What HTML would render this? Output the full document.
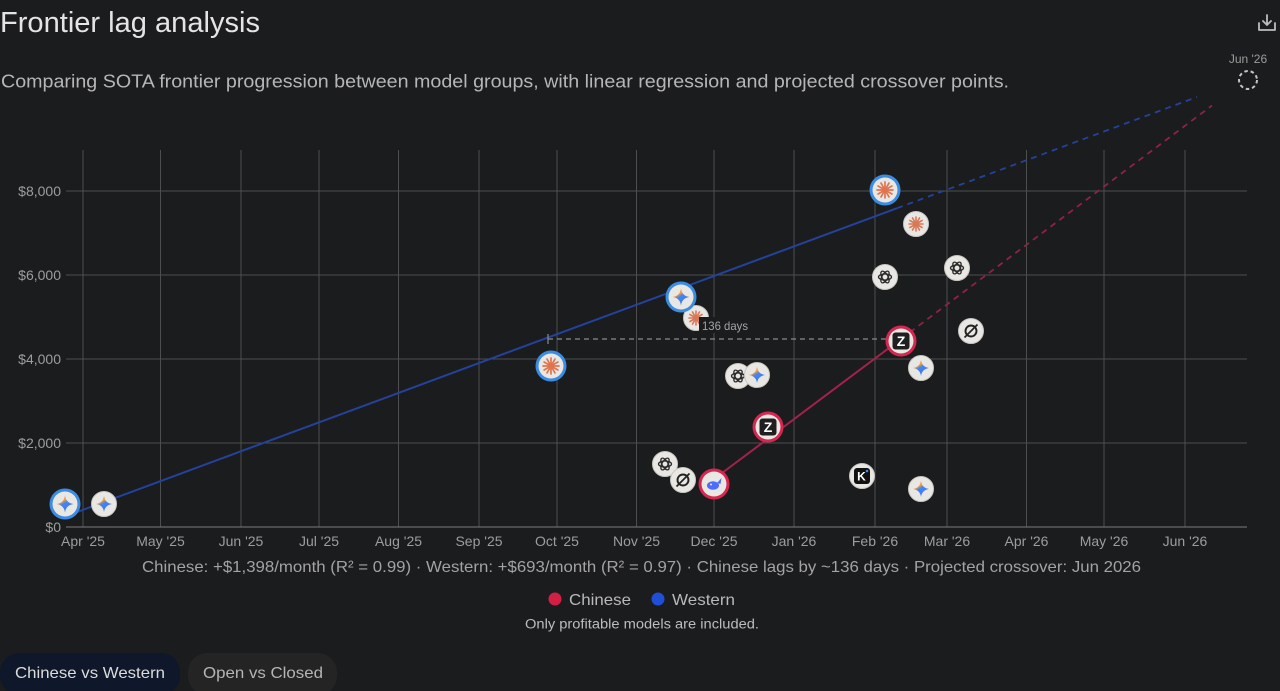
<!DOCTYPE html>
<html>
<head>
<meta charset="utf-8">
<style>
  html,body{margin:0;padding:0;background:#1b1c1e;}
  svg{display:block;}
  text{font-family:"Liberation Sans", Arial, sans-serif;}
</style>
</head>
<body>
<svg width="1280" height="691" viewBox="0 0 1280 691" xmlns="http://www.w3.org/2000/svg">
  <defs>
    <linearGradient id="gem" x1="0.2" y1="0" x2="0.8" y2="1">
      <stop offset="0" stop-color="#ee4a4f"/>
      <stop offset="0.3" stop-color="#f6a623"/>
      <stop offset="0.45" stop-color="#4a82f2"/>
      <stop offset="0.7" stop-color="#3f7ff0"/>
      <stop offset="1" stop-color="#2fae5a"/>
    </linearGradient>
  </defs>
  <rect x="0" y="0" width="1280" height="691" fill="#1b1c1e"/>

  <!-- Title & subtitle -->
  <text x="0" y="32" font-size="29" fill="#e4e4e4" textLength="260" lengthAdjust="spacingAndGlyphs">Frontier lag analysis</text>
  <text x="1" y="87.5" font-size="18.5" fill="#b6b6b6" textLength="1008" lengthAdjust="spacingAndGlyphs">Comparing SOTA frontier progression between model groups, with linear regression and projected crossover points.</text>

  <!-- download icon -->
  <g stroke="#bdbdbd" stroke-width="1.8" fill="none" stroke-linecap="round" stroke-linejoin="round">
    <path d="M1259,23 V30 H1275 V23"/>
    <path d="M1267,15 V25 M1263,21 L1267,25 L1271,21"/>
  </g>

  <!-- Jun '26 crossover marker -->
  <text x="1248" y="63" font-size="12" fill="#9c9c9c" text-anchor="middle">Jun '26</text>
  <circle cx="1248" cy="80" r="9" fill="none" stroke="#c4c4c4" stroke-width="2" stroke-dasharray="3.5 2.9"/>

  <!-- Grid -->
  <g stroke="#4e4e4e" stroke-width="1">
    <line x1="66" y1="191" x2="1247" y2="191"/>
    <line x1="66" y1="275" x2="1247" y2="275"/>
    <line x1="66" y1="359" x2="1247" y2="359"/>
    <line x1="66" y1="443" x2="1247" y2="443"/>
    <line x1="83" y1="150" x2="83" y2="527"/>
    <line x1="160.5" y1="150" x2="160.5" y2="527"/>
    <line x1="241" y1="150" x2="241" y2="527"/>
    <line x1="319" y1="150" x2="319" y2="527"/>
    <line x1="398.5" y1="150" x2="398.5" y2="527"/>
    <line x1="479" y1="150" x2="479" y2="527"/>
    <line x1="557" y1="150" x2="557" y2="527"/>
    <line x1="636.5" y1="150" x2="636.5" y2="527"/>
    <line x1="714" y1="150" x2="714" y2="527"/>
    <line x1="794" y1="150" x2="794" y2="527"/>
    <line x1="875" y1="150" x2="875" y2="527"/>
    <line x1="947" y1="150" x2="947" y2="527"/>
    <line x1="1026.5" y1="150" x2="1026.5" y2="527"/>
    <line x1="1104" y1="150" x2="1104" y2="527"/>
    <line x1="1185" y1="150" x2="1185" y2="527"/>
  </g>
  <line x1="66" y1="527" x2="1247" y2="527" stroke="#6a6a6a" stroke-width="1.2"/>

  <!-- Y labels -->
  <g font-size="14" fill="#9d9d9d" text-anchor="end">
    <text x="61" y="196">$8,000</text>
    <text x="61" y="280">$6,000</text>
    <text x="61" y="364">$4,000</text>
    <text x="61" y="448">$2,000</text>
    <text x="61" y="532">$0</text>
  </g>

  <!-- X labels -->
  <g font-size="14" fill="#9d9d9d" text-anchor="middle">
    <text x="83" y="546">Apr '25</text>
    <text x="160.5" y="546">May '25</text>
    <text x="241" y="546">Jun '25</text>
    <text x="319" y="546">Jul '25</text>
    <text x="398.5" y="546">Aug '25</text>
    <text x="479" y="546">Sep '25</text>
    <text x="557" y="546">Oct '25</text>
    <text x="636.5" y="546">Nov '25</text>
    <text x="714" y="546">Dec '25</text>
    <text x="794" y="546">Jan '26</text>
    <text x="875" y="546">Feb '26</text>
    <text x="947" y="546">Mar '26</text>
    <text x="1026.5" y="546">Apr '26</text>
    <text x="1104" y="546">May '26</text>
    <text x="1185" y="546">Jun '26</text>
  </g>

  <!-- Regression lines -->
  <line x1="65" y1="516.5" x2="897" y2="208.2" stroke="#24429a" stroke-width="2"/>
  <line x1="897" y1="208.2" x2="1197" y2="97" stroke="#24429a" stroke-width="1.8" stroke-dasharray="6 5"/>
  <line x1="714" y1="479" x2="901" y2="339" stroke="#a3224a" stroke-width="2"/>
  <line x1="901" y1="339" x2="1212" y2="105.5" stroke="#8e2342" stroke-width="1.8" stroke-dasharray="6 5"/>

  <!-- lag line -->
  <line x1="548" y1="339" x2="890" y2="339" stroke="#8a8a8a" stroke-width="1.2" stroke-dasharray="5 4"/>
  <line x1="548" y1="334" x2="548" y2="344" stroke="#8a8a8a" stroke-width="1.2"/>

  <!-- ===== Regular markers ===== -->
  <!-- Gemini 104,504 -->
  <g transform="translate(104,504)">
    <circle r="12.5" fill="#e9e7e3" stroke="#c9c7c3" stroke-width="1"/>
    <path d="M0,-8 Q1,-1 8,0 Q1,1 0,8 Q-1,1 -8,0 Q-1,-1 0,-8Z" fill="url(#gem)"/>
  </g>
  <!-- Claude 696,318 -->
  <g transform="translate(696,318)">
    <circle r="12.5" fill="#e9e7e3" stroke="#c9c7c3" stroke-width="1"/>
    <path d="M0,0 L7,0 M0,0 L6.06,3.5 M0,0 L3.5,6.06 M0,0 L0,7 M0,0 L-3.5,6.06 M0,0 L-6.06,3.5 M0,0 L-7,0 M0,0 L-6.06,-3.5 M0,0 L-3.5,-6.06 M0,0 L0,-7 M0,0 L3.5,-6.06 M0,0 L6.06,-3.5" stroke="#d97757" stroke-width="1.6" stroke-linecap="round"/>
  </g>
  <!-- OpenAI 738,376 -->
  <g transform="translate(738,376)">
    <circle r="12.5" fill="#e9e7e3" stroke="#c9c7c3" stroke-width="1"/>
    <g stroke="#2b2b2b" fill="none" stroke-width="1.3"><ellipse rx="6.5" ry="3"/><ellipse rx="6.5" ry="3" transform="rotate(60)"/><ellipse rx="6.5" ry="3" transform="rotate(120)"/></g>
  </g>
  <!-- Gemini 757,375 -->
  <g transform="translate(757,375)">
    <circle r="12.5" fill="#e9e7e3" stroke="#c9c7c3" stroke-width="1"/>
    <path d="M0,-8 Q1,-1 8,0 Q1,1 0,8 Q-1,1 -8,0 Q-1,-1 0,-8Z" fill="url(#gem)"/>
  </g>
  <!-- OpenAI 665,464 -->
  <g transform="translate(665,464)">
    <circle r="12.5" fill="#e9e7e3" stroke="#c9c7c3" stroke-width="1"/>
    <g stroke="#2b2b2b" fill="none" stroke-width="1.3"><ellipse rx="6.5" ry="3"/><ellipse rx="6.5" ry="3" transform="rotate(60)"/><ellipse rx="6.5" ry="3" transform="rotate(120)"/></g>
  </g>
  <!-- Ø 683,480 -->
  <g transform="translate(683,480)">
    <circle r="12.5" fill="#e9e7e3" stroke="#c9c7c3" stroke-width="1"/>
    <circle r="5.5" fill="none" stroke="#222" stroke-width="1.9"/>
    <line x1="-6.5" y1="6.5" x2="6.5" y2="-6.5" stroke="#222" stroke-width="1.7"/>
  </g>
  <!-- K 862,476 -->
  <g transform="translate(862,476)">
    <circle r="12.5" fill="#e9e7e3" stroke="#c9c7c3" stroke-width="1"/>
    <rect x="-8" y="-8" width="16" height="16" rx="3" fill="#111"/>
    <text x="-0.5" y="4.5" font-size="12" font-weight="bold" fill="#fff" text-anchor="middle">K</text>
    <circle cx="5" cy="-5" r="1.3" fill="#3b8de3"/>
  </g>
  <!-- Gemini 921,489 -->
  <g transform="translate(921,489)">
    <circle r="12.5" fill="#e9e7e3" stroke="#c9c7c3" stroke-width="1"/>
    <path d="M0,-8 Q1,-1 8,0 Q1,1 0,8 Q-1,1 -8,0 Q-1,-1 0,-8Z" fill="url(#gem)"/>
  </g>
  <!-- Claude 916,224 -->
  <g transform="translate(916,224)">
    <circle r="12.5" fill="#e9e7e3" stroke="#c9c7c3" stroke-width="1"/>
    <path d="M0,0 L7,0 M0,0 L6.06,3.5 M0,0 L3.5,6.06 M0,0 L0,7 M0,0 L-3.5,6.06 M0,0 L-6.06,3.5 M0,0 L-7,0 M0,0 L-6.06,-3.5 M0,0 L-3.5,-6.06 M0,0 L0,-7 M0,0 L3.5,-6.06 M0,0 L6.06,-3.5" stroke="#d97757" stroke-width="1.6" stroke-linecap="round"/>
  </g>
  <!-- OpenAI 885,277 -->
  <g transform="translate(885,277)">
    <circle r="12.5" fill="#e9e7e3" stroke="#c9c7c3" stroke-width="1"/>
    <g stroke="#2b2b2b" fill="none" stroke-width="1.3"><ellipse rx="6.5" ry="3"/><ellipse rx="6.5" ry="3" transform="rotate(60)"/><ellipse rx="6.5" ry="3" transform="rotate(120)"/></g>
  </g>
  <!-- OpenAI 957,268 -->
  <g transform="translate(957,268)">
    <circle r="12.5" fill="#e9e7e3" stroke="#c9c7c3" stroke-width="1"/>
    <g stroke="#2b2b2b" fill="none" stroke-width="1.3"><ellipse rx="6.5" ry="3"/><ellipse rx="6.5" ry="3" transform="rotate(60)"/><ellipse rx="6.5" ry="3" transform="rotate(120)"/></g>
  </g>
  <!-- Ø 971,331 -->
  <g transform="translate(971,331)">
    <circle r="12.5" fill="#e9e7e3" stroke="#c9c7c3" stroke-width="1"/>
    <circle r="5.5" fill="none" stroke="#222" stroke-width="1.9"/>
    <line x1="-6.5" y1="6.5" x2="6.5" y2="-6.5" stroke="#222" stroke-width="1.7"/>
  </g>
  <!-- Gemini 921,368 -->
  <g transform="translate(921,368)">
    <circle r="12.5" fill="#e9e7e3" stroke="#c9c7c3" stroke-width="1"/>
    <path d="M0,-8 Q1,-1 8,0 Q1,1 0,8 Q-1,1 -8,0 Q-1,-1 0,-8Z" fill="url(#gem)"/>
  </g>

  <!-- lag label (covers part of Claude marker) -->
  <rect x="699" y="317" width="52" height="16" fill="#1b1c1e"/>
  <text x="702" y="330" font-size="12" fill="#a5a5a5" textLength="46" lengthAdjust="spacingAndGlyphs">136 days</text>

  <!-- ===== Highlighted Western (blue ring) ===== -->
  <g transform="translate(65,504)">
    <circle r="15.5" fill="#3b8de3"/><circle r="12.5" fill="#e9e7e3"/>
    <path d="M0,-8.5 Q1,-1 8.5,0 Q1,1 0,8.5 Q-1,1 -8.5,0 Q-1,-1 0,-8.5Z" fill="url(#gem)"/>
  </g>
  <g transform="translate(551,366)">
    <circle r="15.5" fill="#3b8de3"/><circle r="12.5" fill="#e9e7e3"/>
    <path d="M0,0 L8,0 M0,0 L6.93,4 M0,0 L4,6.93 M0,0 L0,8 M0,0 L-4,6.93 M0,0 L-6.93,4 M0,0 L-8,0 M0,0 L-6.93,-4 M0,0 L-4,-6.93 M0,0 L0,-8 M0,0 L4,-6.93 M0,0 L6.93,-4" stroke="#e0744f" stroke-width="1.7" stroke-linecap="round"/>
  </g>
  <g transform="translate(681,297)">
    <circle r="15.5" fill="#3b8de3"/><circle r="12.5" fill="#e9e7e3"/>
    <path d="M0,-8.5 Q1,-1 8.5,0 Q1,1 0,8.5 Q-1,1 -8.5,0 Q-1,-1 0,-8.5Z" fill="url(#gem)"/>
  </g>
  <g transform="translate(885,190)">
    <circle r="15.5" fill="#3b8de3"/><circle r="12.5" fill="#e9e7e3"/>
    <path d="M0,0 L8,0 M0,0 L6.93,4 M0,0 L4,6.93 M0,0 L0,8 M0,0 L-4,6.93 M0,0 L-6.93,4 M0,0 L-8,0 M0,0 L-6.93,-4 M0,0 L-4,-6.93 M0,0 L0,-8 M0,0 L4,-6.93 M0,0 L6.93,-4" stroke="#e0744f" stroke-width="1.7" stroke-linecap="round"/>
  </g>

  <!-- ===== Highlighted Chinese (red ring) ===== -->
  <g transform="translate(714,484)">
    <circle r="15.5" fill="#d7264f"/><circle r="12.5" fill="#e9e7e3"/>
    <ellipse cx="-1" cy="1.5" rx="6" ry="4.3" fill="#4d6bfe"/>
    <path d="M3,-1 L7.5,-6 L6.5,0 Z" fill="#4d6bfe"/>
    <circle cx="-3" cy="0.5" r="1" fill="#e9e7e3"/>
  </g>
  <g transform="translate(768,427)">
    <circle r="15.5" fill="#d7264f"/><circle r="12.5" fill="#e9e7e3"/>
    <rect x="-8.5" y="-8.5" width="17" height="17" rx="3" fill="#1f1f1f"/>
    <text x="0" y="5" font-size="14" font-weight="bold" fill="#fff" text-anchor="middle">Z</text>
  </g>
  <g transform="translate(901,341)">
    <circle r="15.5" fill="#d7264f"/><circle r="12.5" fill="#e9e7e3"/>
    <rect x="-8.5" y="-8.5" width="17" height="17" rx="3" fill="#1f1f1f"/>
    <text x="0" y="5" font-size="14" font-weight="bold" fill="#fff" text-anchor="middle">Z</text>
  </g>

  <!-- Stats line -->
  <text x="142" y="572" font-size="16" fill="#a3a3a3" textLength="999" lengthAdjust="spacingAndGlyphs">Chinese: +$1,398/month (R² = 0.99) · Western: +$693/month (R² = 0.97) · Chinese lags by ~136 days · Projected crossover: Jun 2026</text>

  <!-- Legend -->
  <circle cx="555" cy="599" r="6.5" fill="#d41f45"/>
  <text x="569" y="605" font-size="16" fill="#b9b9b9" textLength="62" lengthAdjust="spacingAndGlyphs">Chinese</text>
  <circle cx="658" cy="599" r="6.5" fill="#1f4fd6"/>
  <text x="672" y="605" font-size="16" fill="#b9b9b9" textLength="63" lengthAdjust="spacingAndGlyphs">Western</text>
  <text x="525" y="628.5" font-size="13.5" fill="#bdbdbd" textLength="234" lengthAdjust="spacingAndGlyphs">Only profitable models are included.</text>

  <!-- Toggle buttons -->
  <rect x="0" y="653" width="180" height="42" rx="19" fill="#0f172a"/>
  <text x="15" y="678" font-size="16" fill="#dcdcdc" textLength="150" lengthAdjust="spacingAndGlyphs">Chinese vs Western</text>
  <rect x="188" y="653" width="149" height="42" rx="19" fill="#242424"/>
  <text x="203" y="678" font-size="16" fill="#b5b5b5" textLength="120" lengthAdjust="spacingAndGlyphs">Open vs Closed</text>
</svg>
</body>
</html>
